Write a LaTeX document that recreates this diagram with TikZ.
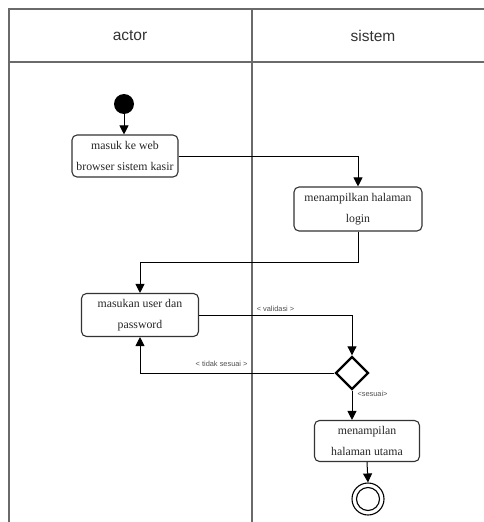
\documentclass[tikz,border=0pt]{standalone}
\usepackage{fontspec}
\setmainfont{Liberation Serif}
\newfontfamily\hdrfont{Liberation Sans}
\usetikzlibrary{arrows.meta,shapes.geometric,calc}
\definecolor{lanegray}{HTML}{6A6A6A}
\definecolor{lblgray}{HTML}{505050}
\tikzset{
  lane/.style={draw=lanegray,line width=1.6pt},
  actbox/.style={draw=black!80,rounded corners=5pt,line width=1.1pt,align=center,
    font=\fontsize{11.8}{21.5}\selectfont,text=black!85,inner sep=0pt},
  flow/.style={draw=black,line width=1.0pt,-{Triangle[length=9pt,width=9pt]}},
  lbl/.style={font=\hdrfont\fontsize{7.4}{8}\selectfont,text=lblgray,inner sep=1pt},
  hdr/.style={font=\hdrfont\fontsize{15.5}{17}\selectfont,text=black!80}
}
\begin{document}
\begin{tikzpicture}[x=1pt,y=-1pt]
\useasboundingbox (0,0) rectangle (483,522);
\fill[white] (0,0) rectangle (483,522);
% swimlanes
\draw[lane] (9,523) -- (9,9) -- (484,9);
\draw[lane] (9,62) -- (484,62);
\draw[lane] (252,9) -- (252,523);
\node[hdr] (h1) at (130,36) {actor};
\node[hdr] (h2) at (373,36) {sistem};
% nodes
\node[circle,fill=black,minimum size=20pt,inner sep=0pt] (start) at (124,104) {};
\node[actbox,minimum width=106pt,minimum height=42pt] (a1) at (125,156) {masuk ke web\\browser sistem kasir};
\node[actbox,minimum width=128pt,minimum height=44pt] (s1) at (358,209) {menampilkan halaman\\login};
\node[actbox,minimum width=117pt,minimum height=43pt] (a2) at (140,315) {masukan user dan\\password};
\node[diamond,draw=black,line width=2.4pt,minimum width=33pt,minimum height=33pt,inner sep=0pt] (d) at (352,373) {};
\node[actbox,minimum width=105pt,minimum height=41pt] (s2) at (367,441) {menampilan\\halaman utama};
\node[circle,draw=black,line width=1.1pt,minimum size=32pt,inner sep=0pt] (end) at (368,499) {};
\draw[line width=1.1pt] (end.center) circle[radius=11.5];
% connectors
\coordinate (b1) at (358,262);
\draw[flow] (start) -- (start |- a1.north);
\draw[flow] (a1.east) -| (s1.north);
\draw[flow] (s1.south) -- (b1) -| (a2.north);
\draw[flow] (a2.east) -| node[lbl,pos=0.25,above=2pt] {< validasi >} (d.north);
\draw[flow] (d.west) -| node[lbl,pos=0.29,above=5pt] {< tidak sesuai >} (a2.south);
\draw[flow] (d.south) -- node[lbl,pos=0.12,anchor=west,xshift=4pt] {<sesuai>} (d.south |- s2.north);
\draw[flow] (s2.south) -- (end.north);
\end{tikzpicture}
\end{document}
